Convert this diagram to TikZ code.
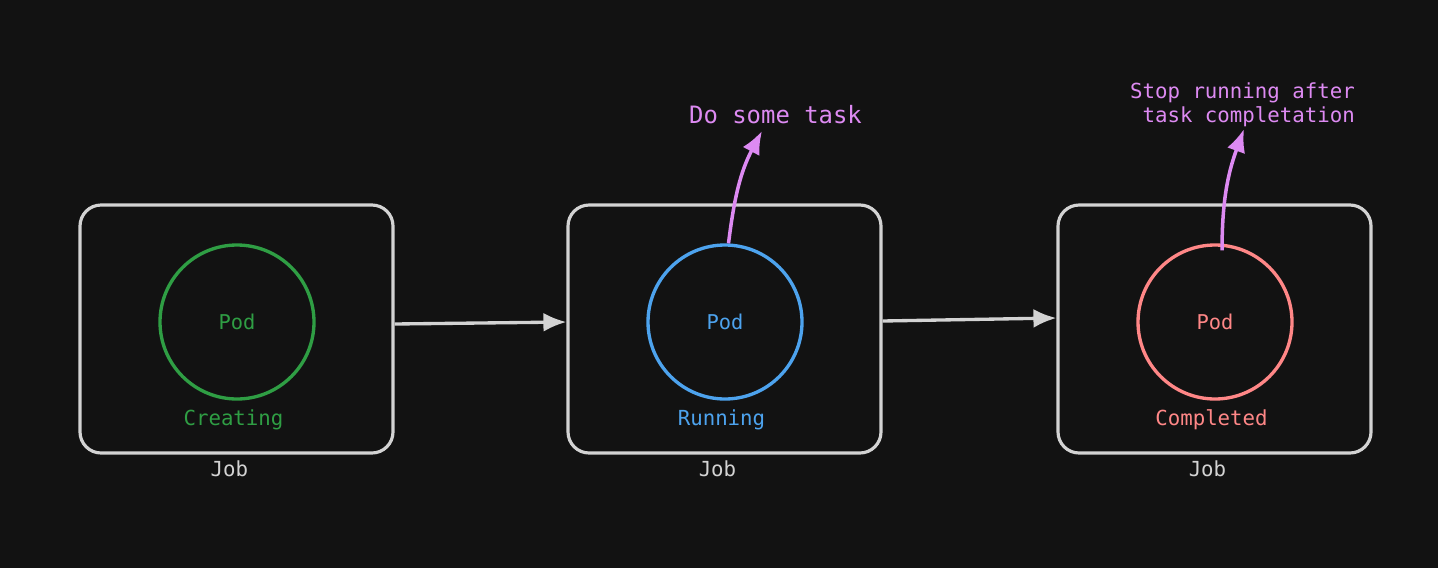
\documentclass[tikz,border=0pt]{standalone}
\usepackage{fontspec}
\setmonofont{DejaVu Sans Mono}
\usepackage{tikz}
\usetikzlibrary{arrows.meta,positioning}
\usepackage{xcolor}
\definecolor{bgdark}{HTML}{121212}
\definecolor{boxgray}{HTML}{D3D3D3}
\definecolor{podgreen}{HTML}{2F9E44}
\definecolor{podblue}{HTML}{4DA3EE}
\definecolor{podred}{HTML}{FF8787}
\definecolor{notepurple}{HTML}{DD8AF2}
\tikzset{
  jobbox/.style={draw=boxgray, rounded corners=6pt, line width=0.9pt, minimum width=3.13cm, minimum height=2.48cm, inner sep=0pt},
  pod/.style={circle, draw=#1, text=#1, line width=0.95pt, minimum size=1.54cm, inner sep=0pt, font=\ttfamily\fontsize{5.8}{7}\selectfont},
  state/.style={text=#1, inner sep=1pt, font=\ttfamily\fontsize{5.9}{7}\selectfont},
  joblbl/.style={text=boxgray, inner sep=1pt, font=\ttfamily\fontsize{5.9}{7}\selectfont},
  note/.style={text=notepurple, inner sep=1pt, align=right, font=\ttfamily\fontsize{5.9}{6.8}\selectfont},
  arrow/.style={-{Latex[length=2.3mm,width=1.9mm]}, draw=boxgray, line width=0.95pt},
  notearrow/.style={-{Latex[length=2.3mm,width=1.9mm]}, draw=notepurple, line width=1pt}
}
\begin{document}
\begin{tikzpicture}
\fill[bgdark] (0,0) rectangle (14.38,5.68);
\useasboundingbox (0,0) rectangle (14.38,5.68);
% ---- jobs ----
\node[jobbox] (job1) at (2.365,2.39) {};
\node[jobbox] (job2) at (7.245,2.39) {};
\node[jobbox] (job3) at (12.145,2.39) {};
\node[joblbl, below=0.02cm of job1, xshift=-2pt] (jl1) {Job};
\node[joblbl, below=0.02cm of job2, xshift=-2pt] (jl2) {Job};
\node[joblbl, below=0.02cm of job3, xshift=-2pt] (jl3) {Job};
% ---- pods ----
\node[pod=podgreen] (pod1) at (2.37,2.46) {Pod};
\node[pod=podblue] (pod2) at (7.25,2.46) {Pod};
\node[pod=podred] (pod3) at (12.15,2.46) {Pod};
\node[state=podgreen, below=0.05cm of pod1, xshift=-1pt] (st1) {Creating};
\node[state=podblue, below=0.05cm of pod2, xshift=-1pt] (st2) {Running};
\node[state=podred, below=0.05cm of pod3, xshift=-1pt] (st3) {Completed};
% ---- transitions ----
\draw[arrow] ([yshift=0.05cm]job1.east) -- ([yshift=0.07cm]job2.west);
\draw[arrow] ([yshift=0.08cm]job2.east) -- ([yshift=0.11cm]job3.west);
% ---- notes ----
\node[note, font=\ttfamily\fontsize{6.8}{8}\selectfont] (note1) at (7.755,4.53) {Do some task};
\node[note, anchor=east] (note2) at (13.59,4.63) {Stop running after\\task completation};
\coordinate (tip1) at (7.62,4.37);
\coordinate (tip2) at (12.44,4.39);
\draw[notearrow] ([xshift=1pt]pod2.north) to[out=83, in=-118] (tip1);
\draw[notearrow] ([xshift=2pt,yshift=-2pt]pod3.north) to[out=90, in=-110] (tip2);
\end{tikzpicture}
\end{document}
